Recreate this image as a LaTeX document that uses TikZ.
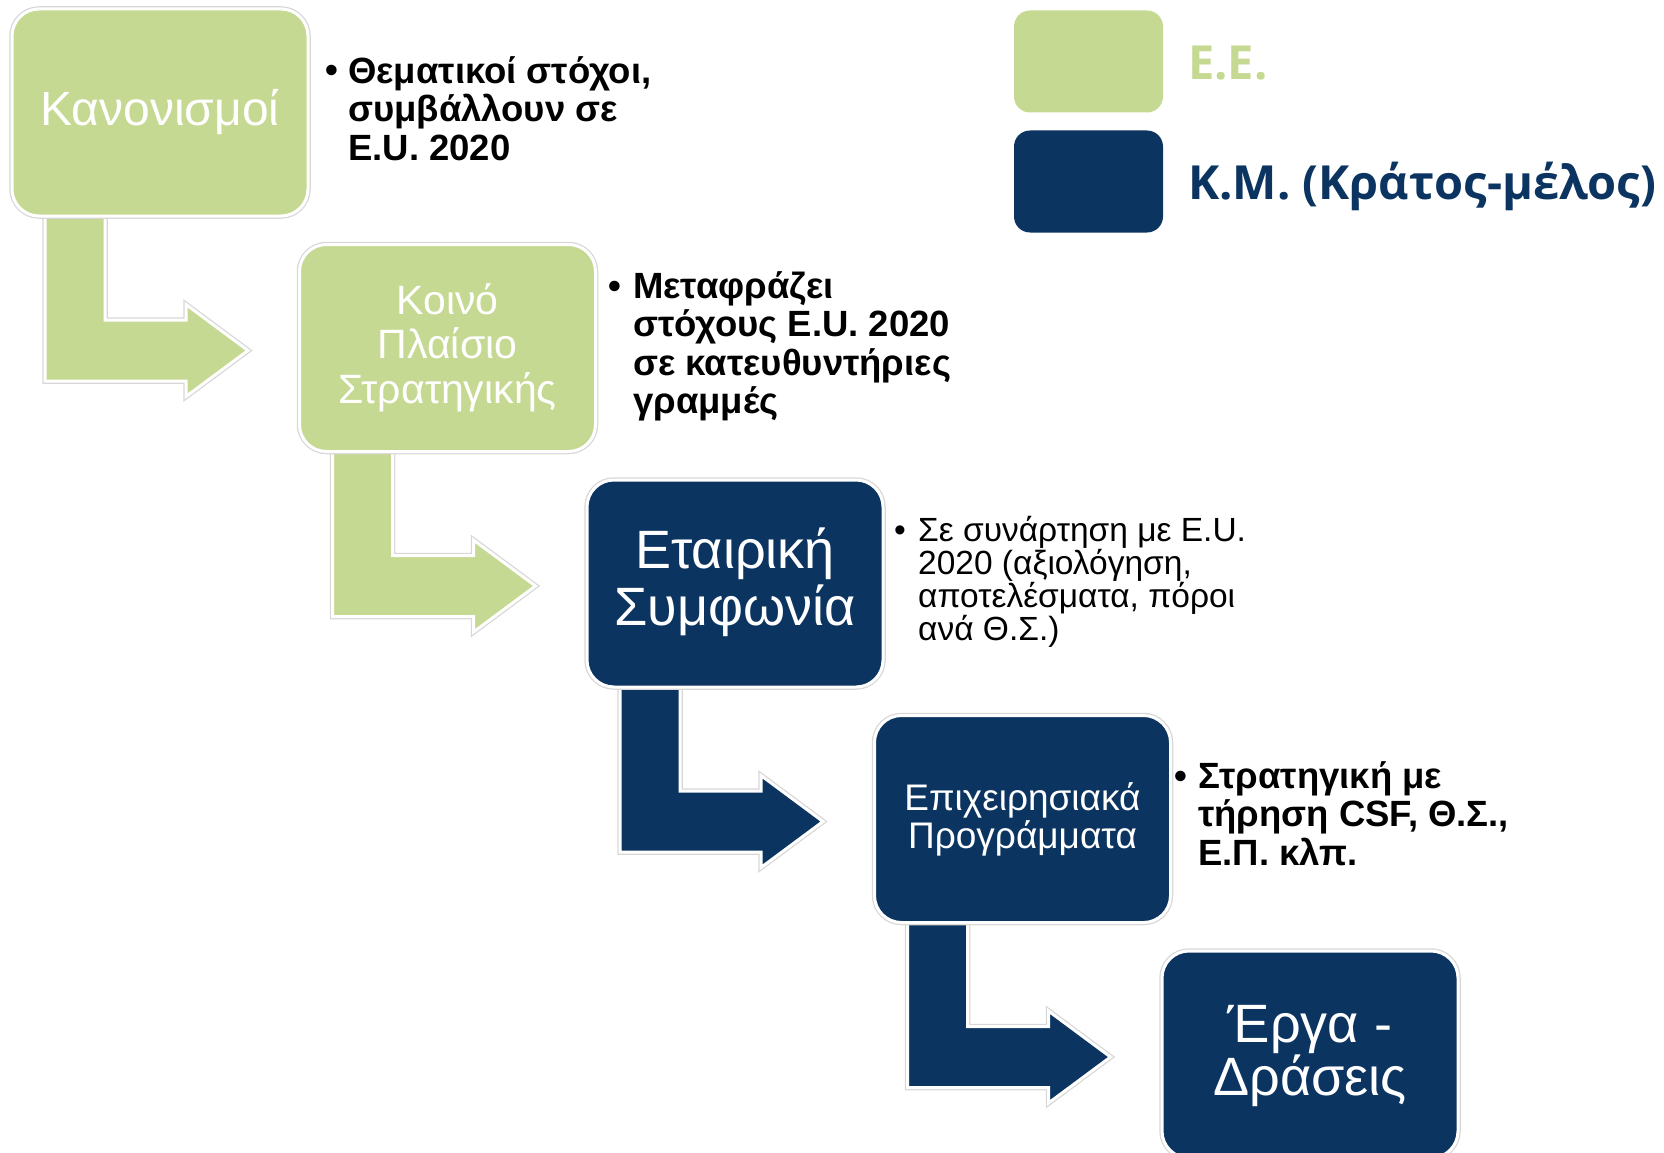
\documentclass[tikz,border=0pt]{standalone}
\usepackage{fontspec}
\setmainfont{Liberation Sans}
\newfontfamily\legendfont{Open Sans}
\usetikzlibrary{calc}
\definecolor{eugreen}{RGB}{198,217,146}
\definecolor{kmblue}{RGB}{11,52,97}
\definecolor{rimgray}{RGB}{215,215,215}
\begin{document}
\begin{tikzpicture}[x=1pt,y=-1pt,
  stagebox/.style={rectangle, rounded corners=27, minimum width=296, minimum height=207,
    inner sep=0, draw=white, line width=3, preaction={draw=rimgray, line width=5.5}},
  bentarrow/.style={draw=white, line width=3, line join=miter, preaction={draw=rimgray, line width=5.5}},
  boxtext/.style={text=white, inner sep=0, align=center, anchor=base},
  bullettext/.style={text=black, inner sep=0, align=left, anchor=base west},
  dot/.style={text=black, inner sep=0, anchor=base},
  boldnote/.style={font=\bfseries\fontsize{36.5}{38.5}\selectfont},
  plainnote/.style={font=\fontsize{33.5}{33}\selectfont},
  legendbox/.style={rectangle, rounded corners=16, minimum width=149, minimum height=102, inner sep=0},
  legendtext/.style={inner sep=0, anchor=base west, font=\legendfont\bfseries\fontsize{47}{50}\selectfont}
]
\useasboundingbox (0,0) rectangle (1664,1153);

% stage box centres
\path (160,112.5) coordinate (c1) (447.5,348) coordinate (c2) (735,583.5) coordinate (c3)
      (1022.5,819) coordinate (c4) (1310,1054.5) coordinate (c5);

% bent arrows
\foreach \i/\j/\col in {1/2/eugreen, 2/3/eugreen, 3/4/kmblue, 4/5/kmblue}{
  \begin{scope}[shift={($(c\i)+(-148,-103.5)$)}]
    \path[bentarrow, fill=\col] (33,200) -- (33,372) -- (174,372) -- (174,387.5) -- (236,341.5)
      -- (174,295.5) -- (174,311) -- (93,311) -- (93,200) -- cycle;
  \end{scope}
}

\node[stagebox, fill=eugreen] (b1) at (c1) {};
\node[stagebox, fill=eugreen] (b2) at (c2) {};
\node[stagebox, fill=kmblue] (b3) at (c3) {};
\node[stagebox, fill=kmblue] (b4) at (c4) {};
\node[stagebox, fill=kmblue] (b5) at (c5) {};

% box texts (anchor = baseline of the last line)
\node[boxtext, font=\fontsize{48}{50}\selectfont] (t1) at ($(b1.center)+(0,13)$) {Κανονισμοί};
\node[boxtext, font=\fontsize{41}{44.5}\selectfont] (t2) at ($(b2.center)+(0,55)$) {Κοινό\\Πλαίσιο\\Στρατηγικής};
\node[boxtext, font=\fontsize{54}{57}\selectfont] (t3) at ($(b3.center)+(0,41.5)$) {Εταιρική\\Συμφωνία};
\node[boxtext, font=\fontsize{37}{38.5}\selectfont] (t4) at ($(b4.center)+(0,29.5)$) {Επιχειρησιακά\\Προγράμματα};
\node[boxtext, font=\fontsize{54}{53}\selectfont] (t5) at ($(b5.center)+(0,40.5)$) {Έργα -\\Δράσεις};

% bullet notes
\node[dot, boldnote] (d1) at (332,83) {•};
\node[bullettext, boldnote] (n1) at (348,160)
  {Θεματικοί στόχοι,\\συμβάλλουν σε\\E.U. 2020};
\node[dot, boldnote] (d2) at (615,298) {•};
\node[bullettext, boldnote] (n2) at (633,413.5)
  {Μεταφράζει\\στόχους E.U. 2020\\σε κατευθυντήριες\\γραμμές};
\node[dot, plainnote] (d3) at (900,541) {•};
\node[bullettext, plainnote] (n3) at (918,640)
  {Σε συνάρτηση με E.U.\\2020 (αξιολόγηση,\\αποτελέσματα, πόροι\\ανά Θ.Σ.)};
\node[dot, boldnote] (d4) at (1181,788) {•};
\node[bullettext, boldnote] (n4) at (1198,865)
  {Στρατηγική με\\τήρηση CSF, Θ.Σ.,\\Ε.Π. κλπ.};

% legend
\node[legendbox, fill=eugreen] (lg) at (1088.5,61.5) {};
\node[legendbox, fill=kmblue] (lk) at (1088.5,181.5) {};
\node[legendtext, text=eugreen] (lgt) at (1188,80) {Ε.Ε.};
\node[legendtext, text=kmblue] (lkt) at (1188,199) {Κ.Μ. (Κράτος-μέλος)};
\end{tikzpicture}
\end{document}
